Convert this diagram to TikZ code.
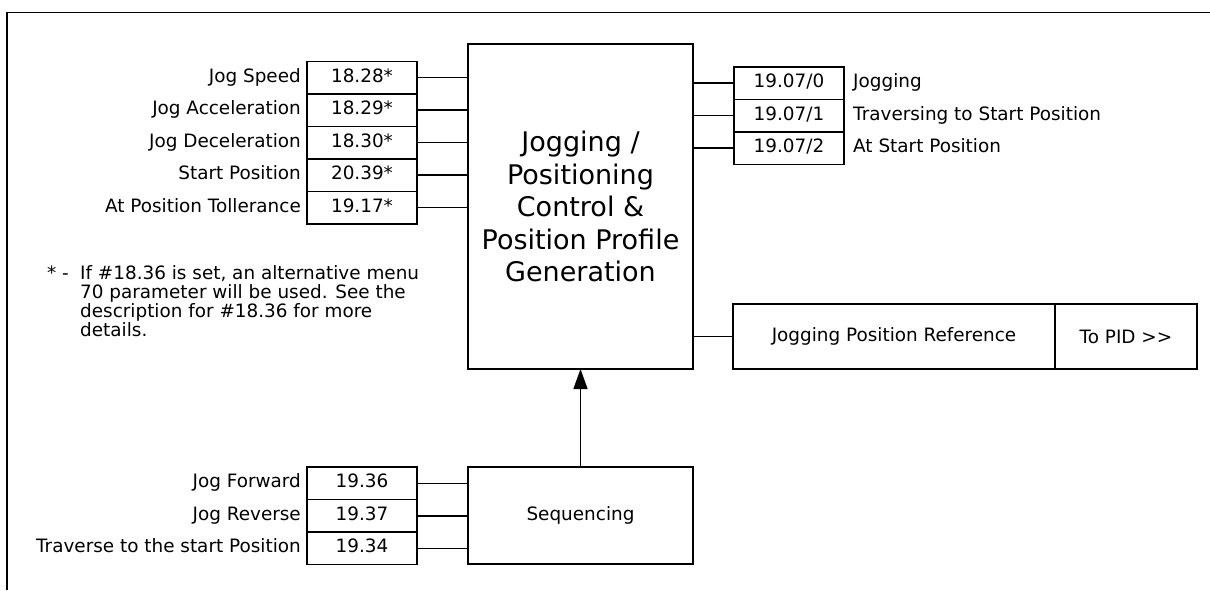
\documentclass[tikz,border=0pt]{standalone}
\usepackage{fontspec}
\setmainfont{DejaVu Sans}
\usetikzlibrary{positioning,arrows.meta}
\def\labelfont{\fontsize{18.4pt}{19pt}\selectfont}
\def\titlefont{\fontsize{27pt}{32.5pt}\selectfont}
\def\noteindent{\hspace*{33pt}}
\tikzset{
  parbox/.style={draw,line width=1.5pt,outer sep=0pt,inner sep=0pt,minimum width=110pt,minimum height=32.5pt,text height=13pt,text depth=4pt,font=\labelfont},
  parname/.style={inner sep=0pt,text height=13pt,text depth=4pt,font=\labelfont},
  blockbox/.style={draw,line width=1.5pt,outer sep=0pt,inner sep=0pt,font=\labelfont},
  wire/.style={line width=1.5pt}
}

\begin{document}
\begin{tikzpicture}[x=1pt,y=-1pt]
			\useasboundingbox (0,0) rectangle (1210,590);
			\draw[wire] (7,590) -- (7,12.5) -- (1210,12.5);
			% main block
			\node[blockbox,minimum width=225pt,minimum height=325pt,align=center,font=\titlefont] (main) at (580.5,206.5) {Jogging /\\Positioning\\Control \&\\Position Profile\\Generation};
			% inputs
			\node[parbox] (speed) at (362,77.5) {18.28*};
			\node[parbox,below=0pt of speed] (accel) {18.29*};
			\node[parbox,below=0pt of accel] (decel) {18.30*};
			\node[parbox,below=0pt of decel] (startpos) {20.39*};
			\node[parbox,below=0pt of startpos] (tol) {19.17*};
			\node[parname,left=6pt of speed] {Jog Speed};
			\node[parname,left=6pt of accel] {Jog Acceleration};
			\node[parname,left=6pt of decel] {Jog Deceleration};
			\node[parname,left=6pt of startpos] {Start Position};
			\node[parname,left=6pt of tol] {At Position Tollerance};
			\draw[wire] (speed.east) -- (speed.east -| main.west);
			\draw[wire] (accel.east) -- (accel.east -| main.west);
			\draw[wire] (decel.east) -- (decel.east -| main.west);
			\draw[wire] (startpos.east) -- (startpos.east -| main.west);
			\draw[wire] (tol.east) -- (tol.east -| main.west);
			\node[anchor=north west,align=left,inner sep=0pt,font=\labelfont] (note) at (47,265.5) {\makebox[33pt][l]{* -}If \#18.36 is set, an alternative menu\\\noteindent 70 parameter will be used. See the\\\noteindent description for \#18.36 for more\\\noteindent details.};
			% outputs
			\node[parbox] (jogging) at (789,83) {19.07/0};
			\node[parbox,below=0pt of jogging] (traversing) {19.07/1};
			\node[parbox,below=0pt of traversing] (atstart) {19.07/2};
			\node[parname,right=9pt of jogging] {Jogging};
			\node[parname,right=9pt of traversing] {Traversing to Start Position};
			\node[parname,right=9pt of atstart] {At Start Position};
			\draw[wire] (main.east |- jogging.west) -- (jogging.west);
			\draw[wire] (main.east |- traversing.west) -- (traversing.west);
			\draw[wire] (main.east |- atstart.west) -- (atstart.west);
			\node[blockbox,minimum width=322pt,minimum height=65pt] (posref) at (894,336.5) {Jogging Position Reference};
			\node[blockbox,minimum width=142pt,minimum height=65pt,right=0pt of posref] (topid) {To PID {>}{>}};
			\draw[wire] (main.east |- posref.west) -- (posref.west);
			% sequencing
			\node[blockbox,minimum width=225pt,minimum height=97pt] (seq) at (580.5,515.5) {Sequencing};
			\node[parbox] (jogfwd) at (362,483.3) {19.36};
			\node[parbox,below=0pt of jogfwd] (jogrev) {19.37};
			\node[parbox,below=0pt of jogrev] (traverse) {19.34};
			\node[parname,left=6pt of jogfwd] {Jog Forward};
			\node[parname,left=6pt of jogrev] {Jog Reverse};
			\node[parname,left=6pt of traverse] {Traverse to the start Position};
			\draw[wire] (jogfwd.east) -- (jogfwd.east -| seq.west);
			\draw[wire] (jogrev.east) -- (jogrev.east -| seq.west);
			\draw[wire] (traverse.east) -- (traverse.east -| seq.west);
			\draw[wire,-{Triangle[length=20pt,width=14pt]}] (seq.north) -- (main.south);
		\end{tikzpicture}
\end{document}
